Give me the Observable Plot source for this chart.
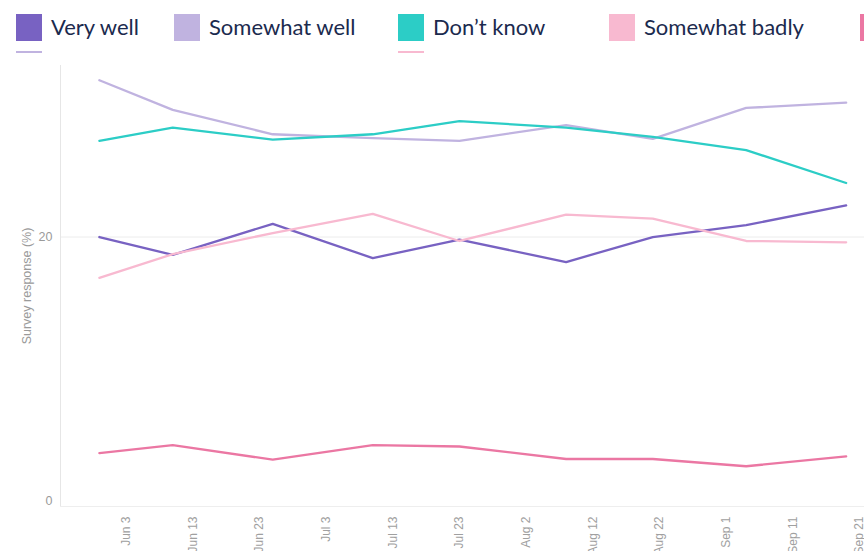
<!DOCTYPE html>
<html>
<head>
<meta charset="utf-8">
<script src="https://cdn.jsdelivr.net/npm/d3@7"></script>
<script src="https://cdn.jsdelivr.net/npm/@observablehq/plot@0.6"></script>
<style>
  html, body { margin: 0; padding: 0; background: #fff; width: 864px; height: 551px; overflow: hidden; }
  #legend { position: relative; width: 864px; height: 60px; overflow: hidden; font-family: Lato, "Open Sans", sans-serif; font-size: 22px; color: #1b2a4e; }
  .sw { position: absolute; width: 26px; height: 27px; }
  .lb { position: absolute; top: 12px; line-height: 30px; white-space: nowrap; }
  .bar { position: absolute; width: 26px; height: 2px; }
  #chart svg { display: block; }
</style>
</head>
<body>
<div id="legend"></div>
<div id="chart"></div>
<script>
// ---- data ----
const categories = ["Very well", "Somewhat well", "Don’t know", "Somewhat badly", "Very badly"];
const colors = ["#7862c2", "#c0b3e0", "#2ccdc6", "#f8b9d0", "#eb77a3"];
const dates = ["2021-05-30", "2021-06-10", "2021-06-25", "2021-07-10", "2021-07-23", "2021-08-08", "2021-08-21", "2021-09-04", "2021-09-19"];
const veryWell      = [20.0, 18.65, 21.0, 18.4, 19.8, 18.1, 20.0, 20.9, 22.4];
const somewhatWell  = [31.9, 29.65, 27.8, 27.5, 27.3, 28.5, 27.45, 29.8, 30.2];
const dontKnow      = [27.3, 28.3, 27.4, 27.8, 28.8, 28.3, 27.6, 26.6, 24.1];
const somewhatBadly = [16.9, 18.7, 20.3, 21.75, 19.7, 21.7, 21.4, 19.7, 19.6];
const veryBadly     = [3.6, 4.2, 3.1, 4.2, 4.1, 3.15, 3.15, 2.6, 3.35];
const xTickLabels = ["2021-06-03", "2021-06-13", "2021-06-23", "2021-07-03", "2021-07-13", "2021-07-23", "2021-08-02", "2021-08-12", "2021-08-22", "2021-09-01", "2021-09-11", "2021-09-21"];
const yTicks = [0, 20];

// ---- legend ----
const legendLeft = [16, 174, 398, 609, 860];
const legend = document.getElementById("legend");
categories.forEach((c, i) => {
  const sw = document.createElement("div");
  sw.className = "sw";
  sw.style.left = legendLeft[i] + "px";
  sw.style.top = "14px";
  sw.style.background = colors[i];
  legend.appendChild(sw);
  const lb = document.createElement("div");
  lb.className = "lb";
  lb.style.left = (legendLeft[i] + 35) + "px";
  lb.textContent = c;
  legend.appendChild(lb);
});
// partially hidden second legend row
[[16, colors[1]], [398, colors[3]]].forEach(([l, col]) => {
  const b = document.createElement("div");
  b.className = "bar";
  b.style.left = l + "px";
  b.style.top = "51px";
  b.style.background = col;
  legend.appendChild(b);
});

// ---- chart ----
const series = [veryWell, somewhatWell, dontKnow, somewhatBadly, veryBadly];
const table = [];
series.forEach((vals, i) => vals.forEach((v, j) => table.push({cat: categories[i], date: new Date(dates[j]), value: v})));

const fmt = d3.utcFormat("%b %-d");
const chart = Plot.plot({
  width: 864,
  height: 491,
  marginTop: 5,
  marginBottom: 45,
  marginLeft: 60,
  marginRight: 0,
  style: {fontFamily: "Liberation Sans, Arial, sans-serif", background: "#fff"},
  x: {type: "utc", domain: [new Date("2021-05-24T04:00Z"), new Date("2021-09-21T18:00Z")]},
  y: {domain: [-0.455, 33.02]},
  color: {domain: categories, range: colors},
  marks: [
    Plot.gridY(yTicks.filter(d => d > 0), {stroke: "#ececec", strokeOpacity: 1}),
    Plot.frame({anchor: "left", stroke: "#e6e6e6"}),
    Plot.frame({anchor: "bottom", stroke: "#eeeeee"}),
    Plot.axisY({ticks: yTicks, tickSize: 0, tickPadding: 8, fontSize: 12.5, fill: "#9a9a9a",
      label: "Survey response (%)", labelAnchor: "center", labelOffset: 38, labelArrow: "none"}),
    Plot.axisX({ticks: xTickLabels.map(d => new Date(d)), tickFormat: fmt, tickRotate: -90, tickSize: 0,
      tickPadding: 10, fontSize: 12, fill: "#a0a0a0", label: null}),
    Plot.line(table, {x: "date", y: "value", z: "cat", stroke: "cat", strokeWidth: 2.3})
  ]
});
document.getElementById("chart").appendChild(chart);
</script>
</body>
</html>
